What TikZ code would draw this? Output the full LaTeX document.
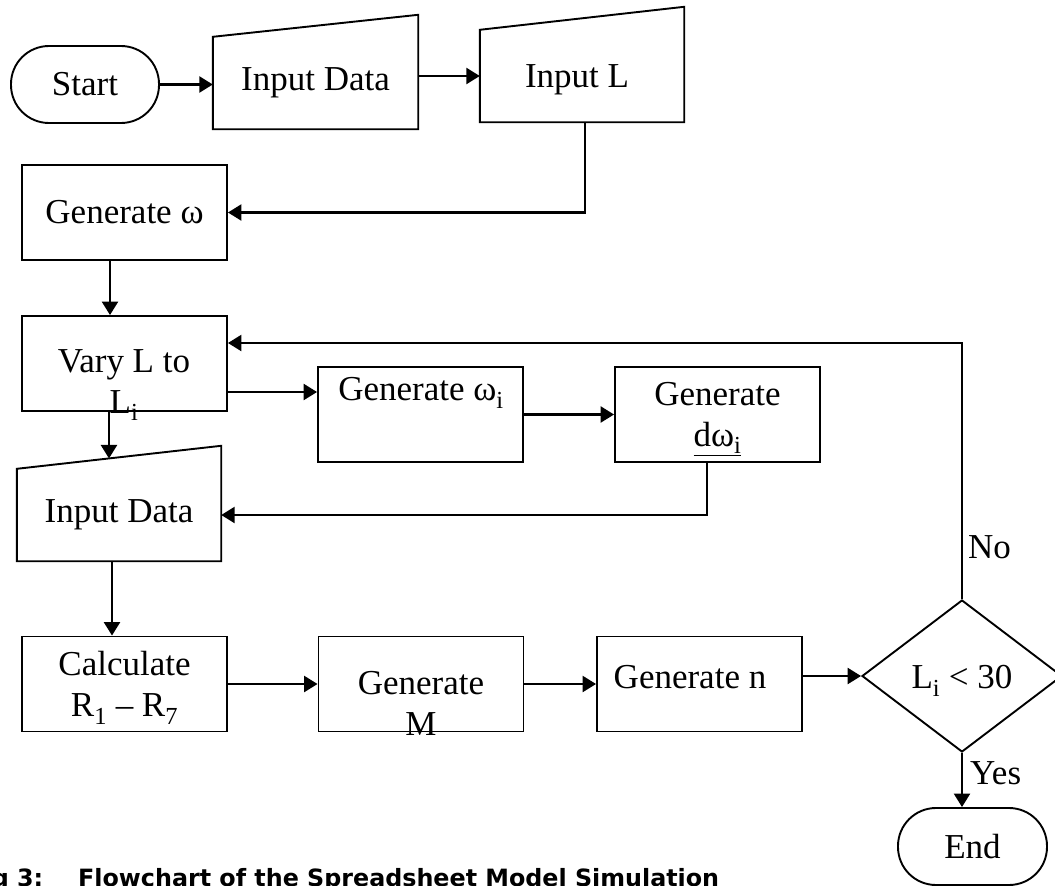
\documentclass[tikz,border=0pt]{standalone}
\usepackage{fontspec}
\setmainfont{Liberation Serif}
\newfontfamily\capfont{DejaVu Sans}
\usetikzlibrary{arrows.meta,shapes.geometric,calc}

\begin{document}
\begin{tikzpicture}[x=1pt,y=-1pt,
  every node/.style={font=\fontsize{35}{41}\selectfont, inner sep=0pt, align=center},
  box/.style={draw, line width=1.9pt, minimum width=205pt, minimum height=95pt},
  term/.style={draw, line width=1.9pt, rounded corners=38pt, minimum width=148pt, minimum height=77pt},
  outline/.style={line width=1.9pt, line join=miter},
  arr/.style={line width=2.5pt, -{Triangle[length=13.5pt,width=16pt]}}
]
% page
\path[use as bounding box, fill=white] (0,0) rectangle (1055,886);

% top row: start and the two manual inputs
\node[term] (start) at (85,84.5) {Start};
\node[minimum width=205pt, minimum height=92pt] (ind1) at (315.5,83) {Input Data};
\draw[outline] (ind1.south west) -- (ind1.north west) -- ([yshift=22pt]ind1.north east) -- (ind1.south east) -- cycle;
\node[minimum width=204pt, minimum height=92pt] (inL) at (582,76) {};
\node (inLt) at (577,80) {Input L};
\draw[outline] (inL.south west) -- (inL.north west) -- ([yshift=23pt]inL.north east) -- (inL.south east) -- cycle;

% left column
\node[box] (genw) at (124.5,212.5) {Generate ω};
\node[box] (vary) at (124.5,363.5) {};
\node (varyt) at (124,385) {Vary L to\\L\textsubscript{i}};
\node[minimum width=204pt, minimum height=92pt] (ind2) at (119,515) {Input Data};
\draw[outline] (ind2.south west) -- (ind2.north west) -- ([yshift=23pt]ind2.north east) -- (ind2.south east) -- cycle;
\node[box] (calc) at (124.5,684) {};
\node (calct) at (124.5,688) {Calculate\\R\textsubscript{1} \textendash{} R\textsubscript{7}};

% middle row
\node[box] (genwi) at (420.5,414.5) {};
\node (genwit) at (421,393) {Generate ω\textsubscript{i}};
\node[box] (gendw) at (717.5,414.5) {};
\node (gendwt) at (717.5,419) {Generate\\\underline{dω\textsubscript{i}}};

% bottom row
\node[box] (genm) at (421,684) {};
\node (genmt) at (421,703) {Generate\\M};
\node[box] (genn) at (699.5,684) {};
\node (gennt) at (690,677) {Generate n};
\node[draw, line width=1.9pt, shape=diamond, minimum width=200pt, minimum height=152pt] (dia) at (962,676) {};
\node (diat) at (962,681) {L\textsubscript{i} < 30};
\node[term, minimum width=149pt] (end) at (972.5,846.5) {End};

% branch labels
\node[anchor=west] (lno) at (968,547) {No};
\node[anchor=west] (lyes) at (970,773) {Yes};

% connectors
\draw[arr] (start.east) -- (start.east -| ind1.west);
\draw[arr] (ind1.east |- inL.west) -- (inL.west);
\draw[arr] ([xshift=3pt]inL.south) |- (genw.east);
\draw[arr] ([xshift=-14.5pt]genw.south) -- ([xshift=-14.5pt]vary.north);
\coordinate (a1) at ([yshift=-28.5pt]vary.east);
\draw[arr] (a1) -- (a1 -| genwi.west);
\draw[arr] (genwi.east) -- (gendw.west);
\draw[arr] ([xshift=-10.5pt]gendw.south) |- (ind2.east);
\coordinate (t2) at ($(ind2.north west)!0.451!([yshift=23pt]ind2.north east)$);
\draw[arr] (vary.south -| t2) -- (t2);
\coordinate (b2) at ([xshift=-7pt]ind2.south);
\draw[arr] (b2) -- (b2 |- calc.north);
\draw[arr] (calc.east) -- (genm.west);
\draw[arr] (genm.east) -- (genn.west);
\draw[arr] (genn.east |- dia.west) -- (dia.west);
\coordinate (fb) at ([yshift=20.5pt]vary.east);
\draw[arr] (dia.north) |- (fb);
\draw[arr] (dia.south) -- (dia.south |- end.north);

% caption
\node[font=\capfont\bfseries\fontsize{23.8}{28}\selectfont, anchor=base west, align=left] (cap) at (78,886)
  {\llap{Fig 3:\hspace{35pt}}Flowchart of the Spreadsheet Model Simulation};
\end{tikzpicture}
\end{document}
